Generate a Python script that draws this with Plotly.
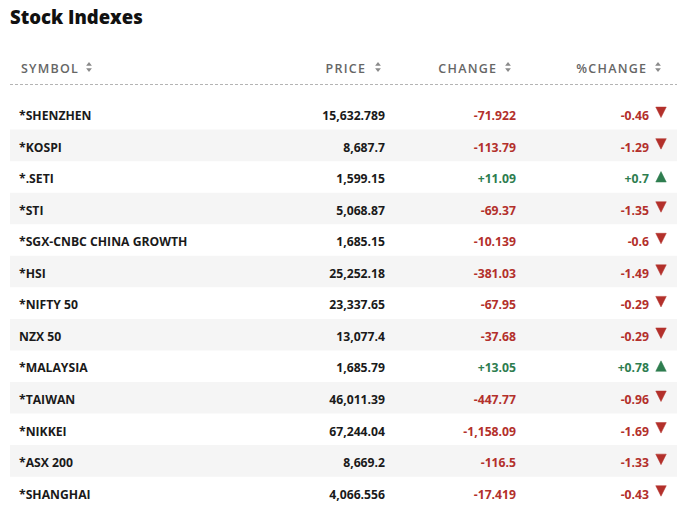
import plotly.graph_objects as go

# table data
symbols = ["*SHENZHEN", "*KOSPI", "*.SETI", "*STI", "*SGX-CNBC CHINA GROWTH", "*HSI",
           "*NIFTY 50", "NZX 50", "*MALAYSIA", "*TAIWAN", "*NIKKEI", "*ASX 200", "*SHANGHAI"]
prices = [15632.789, 8687.7, 1599.15, 5068.87, 1685.15, 25252.18,
          23337.65, 13077.4, 1685.79, 46011.39, 67244.04, 8669.2, 4066.556]
changes = [-71.922, -113.79, 11.09, -69.37, -10.139, -381.03,
           -67.95, -37.68, 13.05, -447.77, -1158.09, -116.5, -17.419]
pct_changes = [-0.46, -1.29, 0.7, -1.35, -0.6, -1.49,
               -0.29, -0.29, 0.78, -0.96, -1.69, -1.33, -0.43]
headers = ["SYMBOL", "PRICE", "CHANGE", "%CHANGE"]

RED = "#b3302b"
GREEN = "#2e7d4f"
TEXT = "#1a1a1a"
GRAY = "#666666"

W, H = 680, 517
ROW0_PX, ROW_PX = 113.8, 31.55   # centre of first row stripe, row pitch
TEXT_DY = 3.2                    # text sits a little below the stripe centre


def y_of(px):
    """pixel row -> data y (row index units)"""
    return (px - ROW0_PX) / ROW_PX


rows = list(range(len(symbols)))
text_y = [r + TEXT_DY / ROW_PX for r in rows]
colors = [GREEN if c > 0 else RED for c in changes]
bold = dict(family="Open Sans", size=12.2, color=TEXT, weight="bold")

fig = go.Figure()

# body columns
fig.add_trace(go.Scatter(x=[19] * len(rows), y=text_y, mode="text", text=symbols,
                         textposition="middle right", textfont=bold))
fig.add_trace(go.Scatter(x=[385] * len(rows), y=text_y, mode="text",
                         text=[f"{p:,}" for p in prices],
                         textposition="middle left", textfont=bold))
fig.add_trace(go.Scatter(x=[516] * len(rows), y=text_y, mode="text",
                         text=[f"{c:+,}" for c in changes],
                         textposition="middle left", textfont=dict(bold, color=colors)))
fig.add_trace(go.Scatter(x=[649] * len(rows), y=text_y, mode="text",
                         text=[f"{p:+,}" for p in pct_changes],
                         textposition="middle left", textfont=dict(bold, color=colors)))

# up / down arrows next to %change
arrow_y = [r - 0.17 if c > 0 else r + 0.12 for r, c in zip(rows, pct_changes)]
fig.add_trace(go.Scatter(
    x=[661] * len(rows), y=arrow_y, mode="markers",
    marker=dict(symbol=["arrow-up" if c > 0 else "arrow-down" for c in pct_changes],
                size=10.5, color=colors, line=dict(width=0.5, color=colors))))

# header labels, letter-spaced
fig.add_trace(go.Scatter(
    x=[21, 365, 496, 646], y=[y_of(69.5)] * 4, mode="text",
    text=["\u200a".join(h) for h in headers],
    textposition=["middle right", "middle left", "middle left", "middle left"],
    textfont=dict(family="Open Sans", size=12.5, color=GRAY, weight=600)))

# sort icons
sx = [89, 378, 508, 658]
fig.add_trace(go.Scatter(x=sx, y=[y_of(64.5)] * 4, mode="markers",
                         marker=dict(symbol="triangle-up", size=5, color="#8a8a8a", line_width=0)))
fig.add_trace(go.Scatter(x=sx, y=[y_of(69.5)] * 4, mode="markers",
                         marker=dict(symbol="triangle-down", size=5, color="#8a8a8a", line_width=0)))

# zebra stripes + dashed header rule
shapes = [dict(type="rect", xref="x", yref="y", x0=10, x1=677, y0=r - 0.5, y1=r + 0.5,
               fillcolor="#f5f5f5", line_width=0, layer="below")
          for r in rows if r % 2 == 1]
shapes.append(dict(type="line", xref="x", yref="y", x0=10, x1=677,
                   y0=y_of(84.5), y1=y_of(84.5),
                   line=dict(color="#b4b4b4", width=1, dash="3px,2px")))

fig.update_layout(
    width=W, height=H,
    margin=dict(l=0, r=0, t=0, b=0),
    paper_bgcolor="white", plot_bgcolor="white",
    showlegend=False,
    title=dict(text="Stock Indexes", x=10 / W, xanchor="left",
               y=1 - 17.5 / H, yanchor="middle",
               font=dict(family="Open Sans", size=18.5, color="#111111", weight=800)),
    xaxis=dict(range=[0, W], visible=False, fixedrange=True),
    yaxis=dict(range=[y_of(H), y_of(0)], visible=False, fixedrange=True),
    shapes=shapes,
    hovermode=False,
)

# drop the default 8px page margin so the figure fills the window
fig.write_html("out.html", config={"displayModeBar": False},
               post_script="document.body.style.margin = '0';")
